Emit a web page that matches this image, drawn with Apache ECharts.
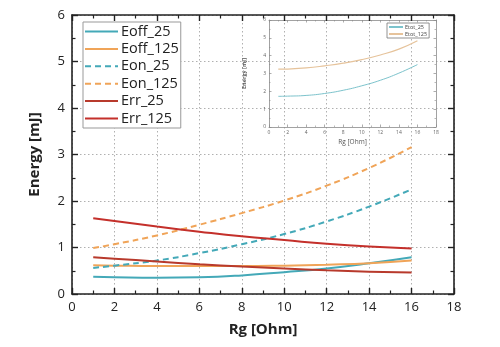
<!DOCTYPE html>
<html>
<head>
<meta charset="utf-8">
<script src="https://cdn.jsdelivr.net/npm/echarts@6/dist/echarts.min.js"></script>
<style>
  html, body { margin: 0; padding: 0; background: #fff; }
  #chart { width: 500px; height: 347px; }
</style>
</head>
<body>
<div id="chart"></div>
<script>
// Gate resistance values (Ohm)
const rg = [1, 2, 4, 6, 8, 10, 12, 14, 16];

// Switching energies (mJ)
const eoff25  = [0.37, 0.36, 0.35, 0.36, 0.40, 0.47, 0.55, 0.66, 0.79];
const eoff125 = [0.62, 0.61, 0.60, 0.60, 0.60, 0.61, 0.63, 0.66, 0.72];
const eon25   = [0.56, 0.61, 0.72, 0.88, 1.07, 1.29, 1.56, 1.88, 2.25];
const eon125  = [0.99, 1.07, 1.26, 1.49, 1.74, 2.01, 2.33, 2.71, 3.16];
const err25   = [0.79, 0.76, 0.70, 0.64, 0.59, 0.55, 0.51, 0.48, 0.46];
const err125  = [1.63, 1.57, 1.45, 1.34, 1.24, 1.16, 1.08, 1.02, 0.98];

// Total energy (inset)
const etot25  = [1.72, 1.73, 1.77, 1.88, 2.06, 2.31, 2.62, 3.02, 3.50];
const etot125 = [3.24, 3.25, 3.31, 3.43, 3.58, 3.78, 4.04, 4.37, 4.84];

const TEAL = '#44a9b8', ORANGE = '#f0a458', RED = '#c4302b', RED2 = '#b83a2c';
const FONT = 'Open Sans';

const pairs = ys => rg.map((x, i) => [x, ys[i]]);

const chart = echarts.init(document.getElementById('chart'), null, { renderer: 'canvas' });

function frameAxis(kind, grid, pos, opts) {
  const big = grid === 0;
  const base = {
    type: 'value', gridIndex: grid, position: pos,
    min: 0, max: kind === 'x' ? 18 : 6, interval: kind === 'x' ? 2 : 1,
    axisLine: { show: true, onZero: false, lineStyle: { color: big ? '#222' : '#8a8a8a', width: big ? 1.6 : 0.8 } },
    axisTick: { show: true, inside: true, length: big ? 6 : 2.5, lineStyle: { color: big ? '#222' : '#8a8a8a', width: big ? 1.4 : 0.7 } },
    minorTick: { show: true, splitNumber: 2, length: big ? 3.5 : 1.5, lineStyle: { color: big ? '#222' : '#8a8a8a', width: big ? 1.2 : 0.6 } },
    axisLabel: { show: false },
    splitLine: { show: false }
  };
  return Object.assign(base, opts || {});
}

const labelMain = { show: true, color: '#222', fontSize: 13, fontFamily: FONT, margin: 7 };
const labelInset = { show: true, color: '#666', fontSize: 5, fontFamily: FONT, margin: 3 };
const gridDots = { show: true, lineStyle: { color: '#b0b0b0', type: [1.5, 2.5], width: 1 } };

const option = {
  backgroundColor: '#fff',
  animation: false,
  grid: [
    { left: 72, right: 46, top: 15, bottom: 53 },
    { left: 269, right: 64, top: 20, height: 107 }
  ],
  xAxis: [
    frameAxis('x', 0, 'bottom', {
      axisLabel: labelMain, splitLine: gridDots,
      name: 'Rg [Ohm]', nameLocation: 'middle', nameGap: 28,
      nameTextStyle: { fontSize: 15, fontWeight: 'bold', color: '#222', fontFamily: FONT }
    }),
    frameAxis('x', 0, 'top'),
    frameAxis('x', 1, 'bottom', {
      axisLabel: labelInset,
      name: 'Rg [Ohm]', nameLocation: 'middle', nameGap: 12,
      nameTextStyle: { fontSize: 6.5, color: '#555', fontFamily: FONT }
    }),
    frameAxis('x', 1, 'top')
  ],
  yAxis: [
    frameAxis('y', 0, 'left', {
      axisLabel: labelMain, splitLine: gridDots,
      name: 'Energy [mJ]', nameLocation: 'middle', nameGap: 30,
      nameTextStyle: { fontSize: 15, fontWeight: 'bold', color: '#222', fontFamily: FONT }
    }),
    frameAxis('y', 0, 'right'),
    frameAxis('y', 1, 'left', {
      axisLabel: labelInset,
      name: 'Energy [mJ]', nameLocation: 'middle', nameGap: 22,
      nameTextStyle: { fontSize: 5.5, fontWeight: 'bold', color: '#555', fontFamily: FONT }
    }),
    frameAxis('y', 1, 'right')
  ],
  legend: [
    {
      data: ['Eoff_25', 'Eoff_125', 'Eon_25', 'Eon_125', 'Err_25', 'Err_125'],
      orient: 'vertical', left: 83, top: 22,
      backgroundColor: '#fff', borderColor: '#999', borderWidth: 1,
      padding: [2, 2, 2, 1], itemGap: 2.4, itemWidth: 33, itemHeight: 14,
      itemStyle: { opacity: 0 },
      textStyle: { fontSize: 14.5, color: '#222', fontFamily: FONT, padding: [0, 0, 0, -2] }
    },
    {
      data: ['Etot_25', 'Etot_125'],
      orient: 'vertical', left: 387, top: 23,
      backgroundColor: '#fff', borderColor: '#777', borderWidth: 0.8,
      padding: [1, 2, 1, 1], itemGap: 1, itemWidth: 14, itemHeight: 6,
      itemStyle: { opacity: 0 },
      textStyle: { fontSize: 5.5, color: '#444', fontFamily: FONT, padding: [0, 0, 0, -3] }
    }
  ],
  series: [
    { name: 'Eoff_25', data: pairs(eoff25), color: TEAL, lineStyle: { width: 2 } },
    { name: 'Eoff_125', data: pairs(eoff125), color: ORANGE, lineStyle: { width: 2 } },
    { name: 'Eon_25', data: pairs(eon25), color: TEAL, lineStyle: { width: 2, type: [6, 4] } },
    { name: 'Eon_125', data: pairs(eon125), color: ORANGE, lineStyle: { width: 2, type: [6, 4] } },
    { name: 'Err_25', data: pairs(err25), color: RED2, lineStyle: { width: 2 } },
    { name: 'Err_125', data: pairs(err125), color: RED, lineStyle: { width: 2 } },
    { name: 'Etot_25', data: pairs(etot25), color: '#7cc3cc', xAxisIndex: 2, yAxisIndex: 2, lineStyle: { width: 1 } },
    { name: 'Etot_125', data: pairs(etot125), color: '#e6c39b', xAxisIndex: 2, yAxisIndex: 2, lineStyle: { width: 1.2 } }
  ].map(s => Object.assign({ type: 'line', smooth: true, showSymbol: false, symbol: 'none', xAxisIndex: 0, yAxisIndex: 0 }, s))
};

chart.setOption(option);
</script>
</body>
</html>
